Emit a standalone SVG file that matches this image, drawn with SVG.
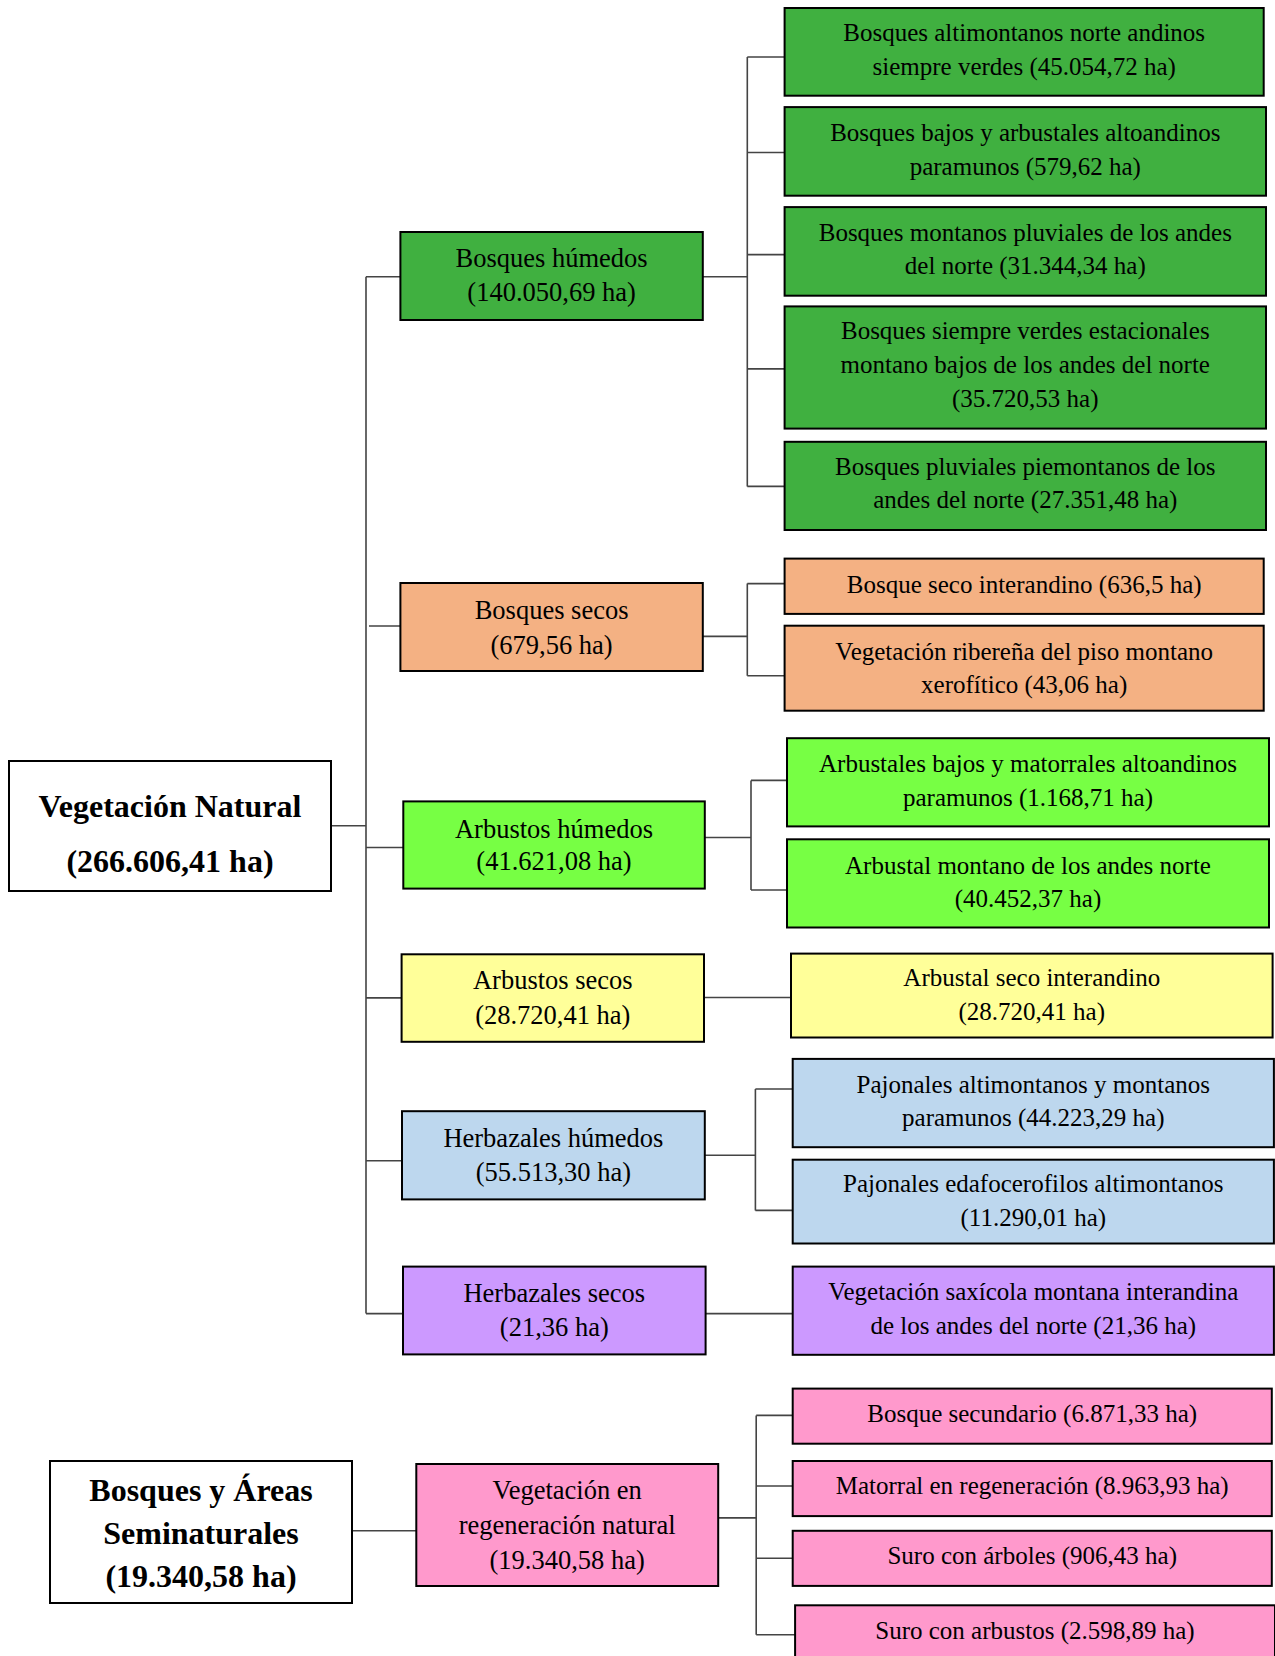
<svg xmlns="http://www.w3.org/2000/svg" width="1275" height="1656" viewBox="0 0 1275 1656">
<style>
.b{stroke:#000;stroke-width:2}
.t{font-family:"Liberation Serif","Times New Roman",serif;font-size:25px;fill:#000;text-anchor:middle}
.m{font-size:26.5px}
.r{font-family:"Liberation Serif","Times New Roman",serif;font-size:32px;font-weight:bold;fill:#000;text-anchor:middle}
.c{stroke:#444;stroke-width:1.6;fill:none}
.dg{fill:#40B040}.or{fill:#F4B183}.lg{fill:#77FF44}.ye{fill:#FFFF99}.bl{fill:#BDD7EE}.pu{fill:#CC99FF}.pk{fill:#FF99CC}.wh{fill:#FFFFFF}
</style>
<rect width="1275" height="1656" fill="#fff"/>
<g id="connectors">
<path class="c" d="M331,825.7H366M366,276.8V1313.6M366,276.8H400M369,626H400M366,847.5H403M366,997.9H401M366,1160.8H402M366,1313.6H403"/>
<path class="c" d="M702.8,276.8H747.3M747.3,57V486.4M747.3,57H784.6M747.3,152.5H784.6M747.3,254.6H784.6M747.3,368.9H784.6M747.3,486.4H784.6"/>
<path class="c" d="M702.8,636.4H747.3M747.3,583.6V675.7M747.3,583.6H784.6M747.3,675.7H784.6"/>
<path class="c" d="M704.8,837.5H751M751,780.4V890M751,780.4H787M751,890H787"/>
<path class="c" d="M704,997.5H791"/>
<path class="c" d="M704.8,1155.3H755.4M755.4,1089V1210.4M755.4,1089H792.7M755.4,1210.4H792.7"/>
<path class="c" d="M705.6,1313.6H792.7"/>
<path class="c" d="M351.8,1530.8H416.3"/>
<path class="c" d="M718.2,1517.9H756.2M756.2,1415.4V1634.7M756.2,1415.4H792.7M756.2,1486H792.7M756.2,1558.3H792.7M756.2,1634.7H795"/>
</g>
<g id="root-vegetacion-natural">
<rect class="b wh" x="9" y="761" width="322" height="130"/>
<text class="r" x="170" y="817">Vegetación Natural</text>
<text class="r" x="170" y="872">(266.606,41 ha)</text>
</g>
<g id="root-bosques-areas">
<rect class="b wh" x="50" y="1461" width="302" height="142"/>
<text class="r" x="201" y="1500.6">Bosques y Áreas</text>
<text class="r" x="201" y="1543.6">Seminaturales</text>
<text class="r" x="201" y="1587">(19.340,58 ha)</text>
</g>
<g id="bosques-humedos">
<rect class="b dg" x="400.4" y="232" width="302.4" height="88"/>
<text class="t m" x="551.6" y="267">Bosques húmedos</text>
<text class="t m" x="551.6" y="301">(140.050,69 ha)</text>
</g>
<g id="bosques-secos">
<rect class="b or" x="400.4" y="583" width="302.4" height="88"/>
<text class="t m" x="551.6" y="619.3">Bosques secos</text>
<text class="t m" x="551.6" y="653.6">(679,56 ha)</text>
</g>
<g id="arbustos-humedos">
<rect class="b lg" x="403.3" y="801.4" width="301.5" height="87.2"/>
<text class="t m" x="554" y="837.5">Arbustos húmedos</text>
<text class="t m" x="554" y="870.4">(41.621,08 ha)</text>
</g>
<g id="arbustos-secos">
<rect class="b ye" x="401.6" y="954.3" width="302.4" height="87.5"/>
<text class="t m" x="552.8" y="989.3">Arbustos secos</text>
<text class="t m" x="552.8" y="1024">(28.720,41 ha)</text>
</g>
<g id="herbazales-humedos">
<rect class="b bl" x="402" y="1111.2" width="302.8" height="88.2"/>
<text class="t m" x="553.4" y="1147.2">Herbazales húmedos</text>
<text class="t m" x="553.4" y="1181">(55.513,30 ha)</text>
</g>
<g id="herbazales-secos">
<rect class="b pu" x="403" y="1266.6" width="302.6" height="87.8"/>
<text class="t m" x="554.3" y="1301.5">Herbazales secos</text>
<text class="t m" x="554.3" y="1336">(21,36 ha)</text>
</g>
<g id="vegetacion-regeneracion">
<rect class="b pk" x="416.3" y="1464" width="301.9" height="122"/>
<text class="t m" x="567.2" y="1498.8">Vegetación en</text>
<text class="t m" x="567.2" y="1533.7">regeneración natural</text>
<text class="t m" x="567.2" y="1568.6">(19.340,58 ha)</text>
</g>
<g id="leaf-1">
<rect class="b dg" x="784.6" y="8" width="479.1" height="87.7"/>
<text class="t" x="1024.2" y="41">Bosques altimontanos norte andinos</text>
<text class="t" x="1024.2" y="75">siempre verdes (45.054,72 ha)</text>
</g>
<g id="leaf-2">
<rect class="b dg" x="784.6" y="107.1" width="481.4" height="88.6"/>
<text class="t" x="1025.3" y="141">Bosques bajos y arbustales altoandinos</text>
<text class="t" x="1025.3" y="175">paramunos (579,62 ha)</text>
</g>
<g id="leaf-3">
<rect class="b dg" x="784.6" y="207.1" width="481.4" height="88.6"/>
<text class="t" x="1025.3" y="241">Bosques montanos pluviales de los andes</text>
<text class="t" x="1025.3" y="274.3">del norte (31.344,34 ha)</text>
</g>
<g id="leaf-4">
<rect class="b dg" x="784.6" y="306.4" width="481.4" height="122.2"/>
<text class="t" x="1025.3" y="339">Bosques siempre verdes estacionales</text>
<text class="t" x="1025.3" y="373">montano bajos de los andes del norte</text>
<text class="t" x="1025.3" y="407">(35.720,53 ha)</text>
</g>
<g id="leaf-5">
<rect class="b dg" x="784.6" y="441.8" width="481.4" height="88.2"/>
<text class="t" x="1025.3" y="475">Bosques pluviales piemontanos de los</text>
<text class="t" x="1025.3" y="508">andes del norte (27.351,48 ha)</text>
</g>
<g id="leaf-6">
<rect class="b or" x="784.6" y="558.6" width="479.1" height="55.3"/>
<text class="t" x="1024.2" y="592.5">Bosque seco interandino (636,5 ha)</text>
</g>
<g id="leaf-7">
<rect class="b or" x="784.6" y="625.7" width="479.1" height="85"/>
<text class="t" x="1024.2" y="659.6">Vegetación ribereña del piso montano</text>
<text class="t" x="1024.2" y="692.9">xerofítico (43,06 ha)</text>
</g>
<g id="leaf-8">
<rect class="b lg" x="787" y="738.2" width="482" height="88.2"/>
<text class="t" x="1028" y="772">Arbustales bajos y matorrales altoandinos</text>
<text class="t" x="1028" y="806">paramunos (1.168,71 ha)</text>
</g>
<g id="leaf-9">
<rect class="b lg" x="787" y="839.3" width="482" height="88.2"/>
<text class="t" x="1028" y="874">Arbustal montano de los andes norte</text>
<text class="t" x="1028" y="907">(40.452,37 ha)</text>
</g>
<g id="leaf-10">
<rect class="b ye" x="791" y="953.6" width="481.6" height="83.9"/>
<text class="t" x="1031.8" y="986.4">Arbustal seco interandino</text>
<text class="t" x="1031.8" y="1020.4">(28.720,41 ha)</text>
</g>
<g id="leaf-11">
<rect class="b bl" x="792.7" y="1058.9" width="481.2" height="88.3"/>
<text class="t" x="1033.3" y="1092.5">Pajonales altimontanos y montanos</text>
<text class="t" x="1033.3" y="1126">paramunos (44.223,29 ha)</text>
</g>
<g id="leaf-12">
<rect class="b bl" x="792.7" y="1159.7" width="481.2" height="83.8"/>
<text class="t" x="1033.3" y="1192">Pajonales edafocerofilos altimontanos</text>
<text class="t" x="1033.3" y="1226.2">(11.290,01 ha)</text>
</g>
<g id="leaf-13">
<rect class="b pu" x="792.7" y="1266.6" width="481.2" height="88.2"/>
<text class="t" x="1033.3" y="1300.4">Vegetación saxícola montana interandina</text>
<text class="t" x="1033.3" y="1333.5">de los andes del norte (21,36 ha)</text>
</g>
<g id="leaf-14">
<rect class="b pk" x="792.7" y="1388.6" width="479.1" height="55.1"/>
<text class="t" x="1032.2" y="1421.7">Bosque secundario (6.871,33 ha)</text>
</g>
<g id="leaf-15">
<rect class="b pk" x="792.7" y="1461" width="479.1" height="55.1"/>
<text class="t" x="1032.2" y="1494.4">Matorral en regeneración (8.963,93 ha)</text>
</g>
<g id="leaf-16">
<rect class="b pk" x="792.7" y="1530.8" width="479.1" height="55.1"/>
<text class="t" x="1032.2" y="1563.8">Suro con árboles (906,43 ha)</text>
</g>
<g id="leaf-17">
<rect class="b pk" x="795.1" y="1605.3" width="479.9" height="60"/>
<text class="t" x="1035" y="1639.2">Suro con arbustos (2.598,89 ha)</text>
</g>
</svg>
